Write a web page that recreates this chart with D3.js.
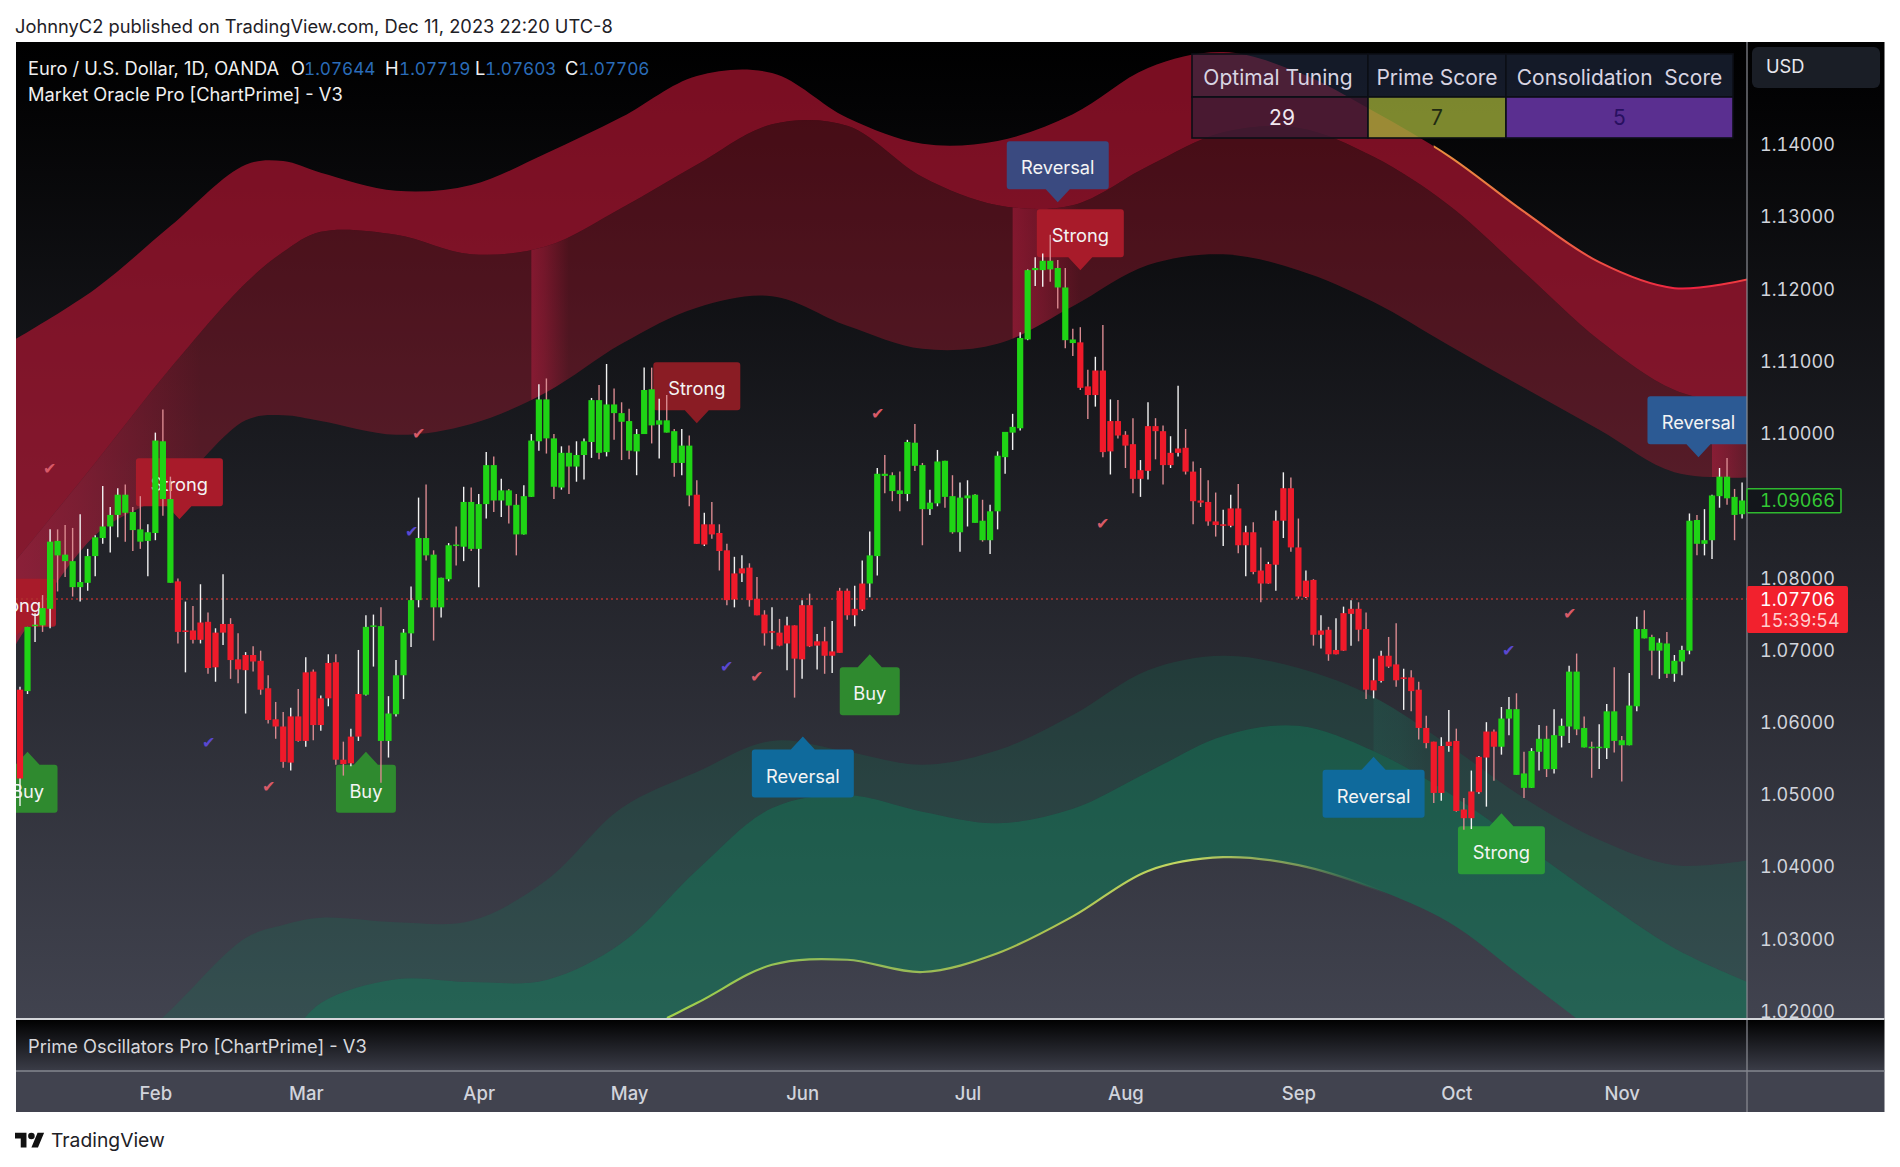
<!DOCTYPE html>
<html><head><meta charset="utf-8">
<script src="https://cdn.jsdelivr.net/npm/d3@7/dist/d3.min.js"></script>
<style>html,body{margin:0;padding:0;background:#fff}svg{display:block}text{font-family:Inter,"Noto Sans",sans-serif}</style>
</head><body><svg id="c" width="1900" height="1167"></svg>
<script>
const highs=[1.0649,1.0732,1.0751,1.0776,1.0867,1.0867,1.0873,1.0869,1.0888,1.0840,
1.0859,1.0927,1.0898,1.0924,1.0929,1.0898,1.0913,1.0874,1.1001,1.1033,
1.0940,1.0799,1.0767,1.0761,1.0791,1.0752,1.0730,1.0805,1.0744,1.0723,
1.0697,1.0705,1.0699,1.0665,1.0628,1.0614,1.0620,1.0646,1.0690,1.0673,
1.0637,1.0694,1.0694,1.0573,1.0591,1.0700,1.0748,1.0749,1.0759,1.0636,
1.0686,1.0729,1.0788,1.0911,1.0929,1.0838,1.0800,1.0848,1.0871,1.0926,
1.0925,1.0916,1.0974,1.0968,1.0937,1.0923,1.0916,1.0928,1.0999,1.1068,
1.1076,1.0999,1.0982,1.0983,1.0989,1.0993,1.1049,1.1067,1.1096,1.1062,
1.1043,1.1034,1.1006,1.1091,1.1091,1.1048,1.1053,1.1006,1.1006,1.0997,
1.0935,1.0890,1.0905,1.0874,1.0847,1.0829,1.0831,1.0820,1.0801,1.0755,
1.0759,1.0743,1.0746,1.0734,1.0769,1.0778,1.0722,1.0732,1.0740,1.0786,
1.0785,1.0789,1.0824,1.0864,1.0952,1.0970,1.0946,1.0947,1.0991,1.1013,
1.0959,1.0922,1.0977,1.0962,1.0942,1.0932,1.0935,1.0916,1.0908,1.0901,
1.0975,1.1002,1.1027,1.1140,1.1227,1.1244,1.1249,1.1275,1.1240,1.1229,
1.1145,1.1147,1.1088,1.1106,1.1150,1.1047,1.1046,1.1003,1.1021,1.0963,
1.1043,1.1021,1.1011,1.0996,1.1066,1.1006,1.0961,1.0952,1.0935,1.0918,
1.0894,1.0915,1.0930,1.0872,1.0877,1.0842,1.0822,1.0893,1.0946,1.0939,
1.0882,1.0810,1.0798,1.0748,1.0732,1.0744,1.0760,1.0769,1.0766,1.0752,
1.0688,1.0699,1.0718,1.0737,1.0674,1.0672,1.0656,1.0609,1.0573,1.0579,
1.0617,1.0591,1.0495,1.0533,1.0553,1.0600,1.0590,1.0621,1.0635,1.0640,
1.0559,1.0564,1.0596,1.0595,1.0618,1.0605,1.0678,1.0695,1.0608,1.0573,
1.0597,1.0625,1.0676,1.0581,1.0668,1.0746,1.0755,1.0721,1.0716,1.0725,
1.0693,1.0706,1.0889,1.0887,1.0895,1.0915,1.0952,1.0966,1.0923,1.0932];
const lows=[1.0484,1.0639,1.0711,1.0725,1.0730,1.0781,1.0801,1.0774,1.0767,1.0782,
1.0802,1.0847,1.0835,1.0856,1.0850,1.0837,1.0840,1.0802,1.0852,1.0886,
1.0793,1.0709,1.0669,1.0709,1.0709,1.0667,1.0656,1.0707,1.0660,1.0654,
1.0612,1.0670,1.0638,1.0598,1.0577,1.0537,1.0533,1.0573,1.0566,1.0575,
1.0588,1.0622,1.0541,1.0526,1.0539,1.0574,1.0637,1.0677,1.0516,1.0551,
1.0608,1.0632,1.0704,1.0759,1.0824,1.0713,1.0745,1.0795,1.0817,1.0823,
1.0837,1.0787,1.0882,1.0891,1.0884,1.0875,1.0831,1.0860,1.0912,1.0976,
1.0972,1.0909,1.0922,1.0916,1.0933,1.0936,1.0966,1.0964,1.0968,1.0991,
1.0963,1.0964,1.0942,1.0999,1.0986,1.0965,1.1001,1.0940,1.0942,1.0899,
1.0847,1.0844,1.0854,1.0810,1.0762,1.0759,1.0794,1.0760,1.0748,1.0706,
1.0701,1.0705,1.0672,1.0634,1.0660,1.0704,1.0673,1.0667,1.0668,1.0696,
1.0742,1.0733,1.0754,1.0773,1.0803,1.0917,1.0906,1.0892,1.0906,1.0948,
1.0845,1.0887,1.0899,1.0897,1.0861,1.0836,1.0871,1.0876,1.0850,1.0833,
1.0867,1.0944,1.0977,1.1004,1.1129,1.1204,1.1203,1.1210,1.1173,1.1118,
1.1107,1.1060,1.1020,1.1037,1.0967,1.0943,1.0993,1.0952,1.0917,1.0912,
1.0936,1.0964,1.0929,1.0952,1.0968,1.0943,1.0874,1.0898,1.0872,1.0857,
1.0844,1.0870,1.0834,1.0802,1.0805,1.0766,1.0792,1.0782,1.0855,1.0836,
1.0771,1.0772,1.0706,1.0702,1.0685,1.0694,1.0699,1.0706,1.0712,1.0632,
1.0633,1.0655,1.0675,1.0649,1.0617,1.0615,1.0576,1.0564,1.0488,1.0491,
1.0559,1.0476,1.0451,1.0452,1.0501,1.0483,1.0519,1.0555,1.0582,1.0527,
1.0495,1.0509,1.0533,1.0524,1.0529,1.0565,1.0571,1.0582,1.0565,1.0523,
1.0535,1.0549,1.0558,1.0518,1.0568,1.0615,1.0716,1.0665,1.0660,1.0661,
1.0656,1.0665,1.0694,1.0831,1.0831,1.0826,1.0897,1.0901,1.0852,1.0882];
const opens=[1.0522,1.0643,1.0733,1.0758,1.0757,1.0851,1.0832,1.0823,1.0787,1.0793,
1.0830,1.0855,1.0871,1.0887,1.0915,1.0891,1.0867,1.0851,1.0862,1.0989,
1.0909,1.0795,1.0725,1.0727,1.0714,1.0739,1.0676,1.0724,1.0736,1.0687,
1.0672,1.0693,1.0685,1.0647,1.0604,1.0594,1.0544,1.0608,1.0574,1.0670,
1.0596,1.0633,1.0683,1.0548,1.0543,1.0580,1.0638,1.0732,1.0733,1.0574,
1.0611,1.0665,1.0723,1.0769,1.0855,1.0832,1.0759,1.0798,1.0846,1.0843,
1.0905,1.0840,1.0902,1.0956,1.0907,1.0921,1.0901,1.0860,1.0912,1.0989,
1.1047,1.0993,1.0925,1.0973,1.0954,1.0970,1.0988,1.1046,1.0974,1.1040,
1.1028,1.1017,1.0975,1.0999,1.1061,1.1012,1.1018,1.1003,1.0959,1.0983,
1.0915,1.0846,1.0874,1.0862,1.0838,1.0770,1.0806,1.0814,1.0771,1.0749,
1.0724,1.0724,1.0709,1.0734,1.0687,1.0762,1.0706,1.0712,1.0692,1.0782,
1.0782,1.0748,1.0756,1.0792,1.0830,1.0944,1.0942,1.0921,1.0916,1.0987,
1.0956,1.0895,1.0903,1.0962,1.0913,1.0863,1.0910,1.0915,1.0879,1.0852,
1.0892,1.0967,1.1001,1.1007,1.1130,1.1226,1.1226,1.1239,1.1229,1.1202,
1.1130,1.1126,1.1065,1.1053,1.1087,1.0975,1.1017,1.0998,1.0985,1.0937,
1.0948,1.1010,1.1003,1.0956,1.0973,1.0980,1.0947,1.0907,1.0905,1.0878,
1.0873,1.0872,1.0896,1.0845,1.0863,1.0810,1.0792,1.0818,1.0879,1.0924,
1.0842,1.0773,1.0797,1.0721,1.0728,1.0694,1.0699,1.0750,1.0757,1.0729,
1.0644,1.0657,1.0692,1.0680,1.0661,1.0662,1.0645,1.0592,1.0573,1.0502,
1.0567,1.0574,1.0479,1.0467,1.0503,1.0551,1.0587,1.0566,1.0605,1.0618,
1.0529,1.0509,1.0559,1.0577,1.0535,1.0581,1.0594,1.0670,1.0592,1.0566,
1.0564,1.0564,1.0615,1.0575,1.0568,1.0622,1.0729,1.0718,1.0699,1.0709,
1.0667,1.0684,1.0699,1.0880,1.0847,1.0852,1.0913,1.0940,1.0912,1.0888];
const closes=[1.0645,1.0732,1.0735,1.0734,1.0850,1.0831,1.0823,1.0787,1.0794,1.0830,
1.0856,1.0871,1.0887,1.0915,1.0890,1.0866,1.0850,1.0863,1.0990,1.0909,
1.0793,1.0725,1.0727,1.0714,1.0738,1.0675,1.0724,1.0736,1.0686,1.0673,
1.0693,1.0684,1.0645,1.0603,1.0594,1.0545,1.0608,1.0574,1.0669,1.0596,
1.0633,1.0682,1.0548,1.0542,1.0580,1.0639,1.0732,1.0734,1.0574,1.0612,
1.0665,1.0724,1.0769,1.0855,1.0831,1.0759,1.0800,1.0845,1.0844,1.0905,
1.0840,1.0902,1.0956,1.0907,1.0921,1.0900,1.0860,1.0913,1.0990,1.1047,
1.0993,1.0926,1.0973,1.0954,1.0970,1.0989,1.1046,1.0973,1.1040,1.1028,
1.1016,1.0976,1.0999,1.1060,1.1011,1.1018,1.1001,1.0959,1.0983,1.0914,
1.0847,1.0874,1.0860,1.0837,1.0769,1.0806,1.0813,1.0769,1.0748,1.0723,
1.0726,1.0706,1.0734,1.0688,1.0762,1.0705,1.0712,1.0692,1.0698,1.0696,
1.0748,1.0757,1.0792,1.0831,1.0944,1.0941,1.0920,1.0916,1.0988,1.0955,
1.0895,1.0904,1.0961,1.0912,1.0863,1.0911,1.0914,1.0876,1.0852,1.0892,
1.0969,1.1002,1.1009,1.1132,1.1226,1.1229,1.1239,1.1227,1.1202,1.1129,
1.1125,1.1063,1.1053,1.1087,1.0974,1.1017,1.0997,1.0983,1.0937,1.0949,
1.1010,1.1003,1.0956,1.0973,1.0979,1.0947,1.0906,1.0904,1.0878,1.0873,
1.0874,1.0896,1.0845,1.0863,1.0808,1.0792,1.0819,1.0879,1.0924,1.0842,
1.0774,1.0796,1.0721,1.0727,1.0694,1.0700,1.0751,1.0757,1.0728,1.0645,
1.0658,1.0692,1.0677,1.0658,1.0662,1.0643,1.0592,1.0571,1.0502,1.0567,
1.0573,1.0477,1.0467,1.0504,1.0552,1.0587,1.0566,1.0605,1.0618,1.0527,
1.0509,1.0560,1.0577,1.0535,1.0582,1.0595,1.0670,1.0590,1.0565,1.0564,
1.0566,1.0615,1.0574,1.0568,1.0623,1.0729,1.0716,1.0699,1.0710,1.0667,
1.0685,1.0700,1.0879,1.0847,1.0852,1.0914,1.0940,1.0910,1.0887,1.0907];
const regimeStarts=[0,1,21,46,90,113,141,197];
const regimeKinds=["bear","bull","bear","bull","bear","bull","bear","bull"];

const bandBars=[-1,10,20,30,35,40,50,60,70,80,90,100,110,120,130,140,150,160,170,180,190,200,210,220,230];
const upperOuter=[1.1128,1.1200,1.1287,1.1372,1.1377,1.1361,1.1336,1.1344,1.1388,1.1438,1.1495,1.1499,1.1437,1.1401,1.1405,1.1442,1.1506,1.1528,1.1500,1.1446,1.1384,1.1307,1.1237,1.1201,1.1214];
const upperMiddle=[1.0818,1.0959,1.1090,1.1208,1.1251,1.1279,1.1275,1.1248,1.1259,1.1312,1.1372,1.1428,1.1426,1.1355,1.1316,1.1316,1.1370,1.1417,1.1423,1.1383,1.1316,1.1223,1.1129,1.1060,1.1036];
const upperInner=[1.0700,1.0859,1.0921,1.1018,1.1025,1.1017,1.0998,1.1013,1.1057,1.1124,1.1174,1.1190,1.1149,1.1117,1.1124,1.1176,1.1233,1.1248,1.1226,1.1182,1.1122,1.1063,1.1005,1.0946,1.0939];
const lowerInner=[1.0007,1.0104,1.0201,1.0301,1.0319,1.0329,1.0323,1.0325,1.0381,1.0481,1.0531,1.0574,1.0559,1.0541,1.0561,1.0610,1.0672,1.0692,1.0675,1.0635,1.0568,1.0495,1.0437,1.0402,1.0409];
const lowerMiddle=[0.9869,0.9938,1.0021,1.0104,1.0153,1.0211,1.0244,1.0240,1.0243,1.0294,1.0395,1.0481,1.0499,1.0476,1.0460,1.0480,1.0531,1.0581,1.0595,1.0560,1.0502,1.0430,1.0356,1.0287,1.0239];
const lowerOuter=[0.9800,0.9827,0.9869,0.9910,0.9931,0.9952,1.0007,1.0063,1.0118,1.0160,1.0211,1.0264,1.0271,1.0254,1.0280,1.0331,1.0394,1.0413,1.0402,1.0370,1.0323,1.0245,1.0166,1.0090,1.0021];

const redGlowBars=[[-1,24],[68,73],[132,141],[225,231]];
const greenGlowBars=[[180,187]];

const labelTexts=["Reversal","Strong","Strong","Strong","Strong","Reversal","Buy","Buy","Buy","Reversal","Reversal","Strong"];
const labelBars=[138,141,21.2,90,-1,223.2,1,46,113,104.1,180,197];
const labelPrices=[1.1320,1.1226,1.0881,1.1014,1.0714,1.0967,1.0559,1.0559,1.0694,1.0580,1.0552,1.0474];
const labelKinds=["revTop","strTop","strTop","strTopDim","strTop","revTopR","buy","buy","buy","revBot","revBot","strBot"];

const pinkTickBars=[3.9,53,33,114,98,144,206];
const pinkTickPrices=[1.0952,1.1001,1.0512,1.1028,1.0664,1.0876,1.0751];
const blueTickBars=[25,52,94,198];
const blueTickPrices=[1.0572,1.0865,1.0678,1.0700];

const priceTicks=[1.02,1.03,1.04,1.05,1.06,1.07,1.08,1.10,1.11,1.12,1.13,1.14];
const monthNames=["Feb","Mar","Apr","May","Jun","Jul","Aug","Sep","Oct","Nov"];
const monthBars=[18,38,61,81,104,126,147,170,191,213];
const lastPrice=1.07706, oscPrice=1.09066;
const tableHeaders=["Optimal Tuning","Prime Score","Consolidation  Score"];
const tableValues=["29","7","5"];
const ohlcNames=["O","H","L","C"];
const ohlcValues=["1.07644","1.07719","1.07603","1.07706"];

/* layout */
const L=16,PR=1747,R=1884.5,T=42,PB=1019,OB=1071,B=1112;
const x=d3.scaleLinear().domain([0,230]).range([20,20+7.52*230]);
const y=d3.scaleLinear().domain([1.02,1.14]).range([1011,144.5]);
const svg=d3.select("#c");
const defs=svg.append("defs");
function grad(id,x1,y1,x2,y2,stops,user){
  const g=defs.append("linearGradient").attr("id",id).attr("x1",x1).attr("y1",y1).attr("x2",x2).attr("y2",y2);
  if(user)g.attr("gradientUnits","userSpaceOnUse");
  stops.forEach(s=>g.append("stop").attr("offset",s[0]).attr("stop-color",s[1]).attr("stop-opacity",s[2]==null?1:s[2]));
}
grad("bg",0,0,0,1,[[0,"#000"],[0.06,"#030304"],[1,"#41434f"]]);
grad("osc",0,0,0,1,[[0,"#000"],[1,"#3b3d48"]]);
grad("rglow",0,0,1,0,[[0,"#d02048",.42],[.35,"#d02048",.3],[1,"#d02048",0]]);
grad("gglow",0,0,1,0,[[0,"#20a080",.1],[.5,"#20a080",.07],[1,"#20a080",0]]);
grad("redLine",x(188),0,x(230),0,[[0,"#e89040"],[.45,"#ee5a45"],[.8,"#ee2040"],[1,"#f04040"]],true);
grad("grnLine",x(86),0,x(182),0,[[0,"#a2d14c"],[.25,"#90b85a"],[.5,"#a8c050"],[.72,"#c4d862"],[.88,"#88a85c",.8],[1,"#3e8a60",0]],true);
defs.append("clipPath").attr("id","pane").append("rect").attr("x",L).attr("y",T).attr("width",PR-L).attr("height",PB-T);

svg.append("rect").attr("x",L).attr("y",T).attr("width",R-L).attr("height",PB-T).attr("fill","url(#bg)");
svg.append("rect").attr("x",L).attr("y",PB).attr("width",R-L).attr("height",OB-PB).attr("fill","url(#osc)");
svg.append("rect").attr("x",L).attr("y",OB).attr("width",R-L).attr("height",B-OB).attr("fill","#41434f");

const plot=svg.append("g").attr("clip-path","url(#pane)");
const rows=bandBars.map((b,i)=>({b,uo:upperOuter[i],um:upperMiddle[i],ui:upperInner[i],li:lowerInner[i],lm:lowerMiddle[i],lo:lowerOuter[i]}));
const curve=d3.curveCatmullRom.alpha(0.5);
function band(a,b){return d3.area().x(d=>x(d.b)).y0(d=>y(d[a])).y1(d=>y(d[b])).curve(curve)(rows);}
plot.append("path").attr("d",band("uo","um")).attr("fill","#b41432").attr("fill-opacity",.68);
plot.append("path").attr("d",band("um","ui")).attr("fill","#b41932").attr("fill-opacity",.38);
plot.append("path").attr("d",band("li","lm")).attr("fill","#0a825a").attr("fill-opacity",.2);
plot.append("path").attr("d",band("lm","lo")).attr("fill","#0a825a").attr("fill-opacity",.5);
defs.append("clipPath").attr("id","cr").append("path").attr("d",band("um","ui"));
defs.append("clipPath").attr("id","cg").append("path").attr("d",band("li","lm"));
plot.append("g").attr("clip-path","url(#cr)").selectAll("rect").data(redGlowBars).join("rect")
  .attr("x",d=>x(d[0])).attr("width",d=>x(d[1])-x(d[0])).attr("y",T).attr("height",PB-T).attr("fill","url(#rglow)");
plot.append("g").attr("clip-path","url(#cg)").selectAll("rect").data(greenGlowBars).join("rect")
  .attr("x",d=>x(d[0])).attr("width",d=>x(d[1])-x(d[0])).attr("y",T).attr("height",PB-T).attr("fill","url(#gglow)");

const lineOf=k=>d3.line().x(d=>x(d.b)).y(d=>y(d[k])).curve(curve)(rows);
defs.append("clipPath").attr("id","rl").append("rect").attr("x",x(188)).attr("y",T).attr("width",PR-x(188)).attr("height",PB-T);
defs.append("clipPath").attr("id","gl").append("rect").attr("x",x(86)).attr("y",T).attr("width",x(182)-x(86)).attr("height",PB-T);
plot.append("g").attr("clip-path","url(#rl)").append("path").attr("d",lineOf("uo")).attr("fill","none").attr("stroke","url(#redLine)").attr("stroke-width",2);
plot.append("g").attr("clip-path","url(#gl)").append("path").attr("d",lineOf("lo")).attr("fill","none").attr("stroke","url(#grnLine)").attr("stroke-width",2.2);

/* signal labels */
const kinds={revTop:["#3a4a80",102,-1],revTopR:["#2c5a94",102,-1],strTop:["#a81b2a",87,-1],strTopDim:["#8a1c24",87,-1],buy:["#2f8a2f",60,1],revBot:["#0f6a9c",102,1],strBot:["#2a9a38",87,1]};
const lab=plot.append("g");
labelTexts.forEach((t,i)=>{
  const k=kinds[labelKinds[i]],cx=x(labelBars[i]),tip=y(labelPrices[i]),w=k[1],h=48,d=k[2],a=13;
  const top=d<0?tip-a-h:tip+a,bot=top+h,l=cx-w/2,r=cx+w/2,q=3;
  const p=d3.path();
  p.moveTo(l+q,top);
  if(d>0){p.lineTo(cx-12,top);p.lineTo(cx,tip);p.lineTo(cx+12,top);}
  p.lineTo(r-q,top);p.quadraticCurveTo(r,top,r,top+q);p.lineTo(r,bot-q);p.quadraticCurveTo(r,bot,r-q,bot);
  if(d<0){p.lineTo(cx+12,bot);p.lineTo(cx,tip);p.lineTo(cx-12,bot);}
  p.lineTo(l+q,bot);p.quadraticCurveTo(l,bot,l,bot-q);p.lineTo(l,top+q);p.quadraticCurveTo(l,top,l+q,top);p.closePath();
  lab.append("path").attr("d",p.toString()).attr("fill",k[0]);
  lab.append("text").attr("x",cx).attr("y",(top+bot)/2+9).attr("text-anchor","middle").attr("font-size",18.3).attr("fill","#f4f4f4").text(t);
});

/* last price line */
plot.append("line").attr("x1",L).attr("x2",PR).attr("y1",y(lastPrice)).attr("y2",y(lastPrice)).attr("stroke","#b0302f").attr("stroke-width",1.4).attr("stroke-dasharray","2 3");

/* candles */
const bars=d3.range(highs.length).map(i=>{
  let r=0;regimeStarts.forEach((s,j)=>{if(i>=s)r=j;});
  return {i,h:highs[i],l:lows[i],o:opens[i],c:closes[i],kind:regimeKinds[r]};
});
const cg=plot.append("g");
cg.selectAll("line").data(bars).join("line").attr("x1",d=>x(d.i)).attr("x2",d=>x(d.i)).attr("y1",d=>y(d.h)).attr("y2",d=>y(d.l))
  .attr("stroke",d=>d.c>=d.o?"#f2f2f2":"#d98a90").attr("stroke-width",1.4);
cg.selectAll("rect").data(bars).join("rect").attr("x",d=>x(d.i)-3.1).attr("width",6.2)
  .attr("y",d=>y(Math.max(d.o,d.c))).attr("height",d=>Math.max(1.5,Math.abs(y(d.o)-y(d.c))))
  .attr("fill",d=>d.kind==="bull"?"#1fd415":"#ef1a2a");

/* tick marks */
const ticksG=plot.append("g").attr("font-size",16).attr("text-anchor","middle").style("font-family","'DejaVu Sans'");
ticksG.selectAll(".p").data(pinkTickBars).join("text").attr("class","p").attr("x",d=>x(d)).attr("y",(d,i)=>y(pinkTickPrices[i])+6).attr("fill","#d85a68").text("\u2714");
ticksG.selectAll(".b").data(blueTickBars).join("text").attr("class","b").attr("x",d=>x(d)).attr("y",(d,i)=>y(blueTickPrices[i])+6).attr("fill","#5a48d0").text("\u2714");

/* frame lines */
svg.append("line").attr("x1",PR).attr("x2",PR).attr("y1",T).attr("y2",B).attr("stroke","#8b8d94").attr("stroke-width",1.2);
svg.append("line").attr("x1",L).attr("x2",R).attr("y1",PB).attr("y2",PB).attr("stroke","#d4d6da").attr("stroke-width",2);
svg.append("line").attr("x1",L).attr("x2",R).attr("y1",OB).attr("y2",OB).attr("stroke","#85878f").attr("stroke-width",1.6);

/* price axis */
const tnum=s=>s.style("font-variant-numeric","tabular-nums");
const pa=svg.append("g").attr("transform",`translate(${PR},0.5)`).call(d3.axisRight(y).tickValues(priceTicks).tickFormat(d3.format(".5f")).tickSize(0).tickPadding(13));
pa.select(".domain").remove();
pa.selectAll("text").attr("font-size",18).attr("fill","#d1d4dc").style("font-family","Inter").call(tnum);

/* USD */
svg.append("rect").attr("x",1752).attr("y",47).attr("width",128).attr("height",41).attr("rx",6).attr("fill","#1a1e26");
svg.append("text").attr("x",1766).attr("y",73).attr("font-size",18.3).attr("fill","#e8e8ee").text("USD");
/* oscillator price box */
svg.append("rect").attr("x",PR).attr("y",y(oscPrice)-12).attr("width",94).attr("height",24).attr("rx",1).attr("fill","#13161b").attr("stroke","#2fb82f").attr("stroke-width",1.6);
svg.append("text").attr("x",1760).attr("y",y(oscPrice)+6.5).attr("font-size",18).attr("fill","#34c934").call(tnum).text(d3.format(".5f")(oscPrice));
/* last price box */
svg.append("rect").attr("x",PR).attr("y",586).attr("width",101).attr("height",47).attr("rx",2).attr("fill","#f2212d");
svg.append("text").attr("x",1760).attr("y",606).attr("font-size",18).attr("fill","#fff").call(tnum).text(d3.format(".5f")(lastPrice));
svg.append("text").attr("x",1760).attr("y",627).attr("font-size",18).attr("fill","#ffd0d0").call(tnum).text("15:39:54");

/* time axis */
const ta=svg.append("g").attr("transform",`translate(0,${B-41})`).call(d3.axisBottom(x).tickValues(monthBars).tickFormat((d,i)=>monthNames[i]).tickSize(0).tickPadding(16));
ta.select(".domain").remove();
ta.selectAll("text").attr("font-size",18.5).attr("font-weight",500).attr("fill","#d1d4dc").style("font-family","Inter");

/* table */
const colX=[1192,1368,1506,1733],rowY=[54,97,138];
const tb=svg.append("g");
const headerFill="rgba(36,47,73,.55)",valFill=["rgba(62,28,52,.82)","rgba(165,180,60,.75)","#5a2f90"],valText=["#f0e8f0","#1f2a12","#281060"];
tableHeaders.forEach((h,i)=>{
  tb.append("rect").attr("x",colX[i]).attr("y",rowY[0]).attr("width",colX[i+1]-colX[i]).attr("height",rowY[1]-rowY[0]).attr("fill",headerFill).attr("stroke","#0c0e16").attr("stroke-width",1.6);
  tb.append("rect").attr("x",colX[i]).attr("y",rowY[1]).attr("width",colX[i+1]-colX[i]).attr("height",rowY[2]-rowY[1]).attr("fill",valFill[i]).attr("stroke","#0c0e16").attr("stroke-width",1.6);
  tb.append("text").attr("x",(colX[i]+colX[i+1])/2-(i==0?2:0)).attr("y",85).attr("text-anchor","middle").attr("font-size",21).attr("fill","#d8d4e2").style("white-space","pre").text(h);
  tb.append("text").attr("x",(colX[i]+colX[i+1])/2+(i==0?2:0)).attr("y",125).attr("text-anchor","middle").attr("font-size",21).attr("fill",valText[i]).text(tableValues[i]);
});

/* legend */
const lg=svg.append("text").attr("x",28).attr("y",75).attr("font-size",18.3).attr("fill","#f0f0f0");
lg.append("tspan").text("Euro / U.S. Dollar, 1D, OANDA");
const nameX=[291,385,475,565],valX=[304,399,485,578];
ohlcNames.forEach((n,i)=>{
  lg.append("tspan").attr("x",nameX[i]).attr("fill","#f0f0f0").text(n);
  lg.append("tspan").attr("x",valX[i]).attr("fill","#2a6cb8").attr("font-size",17.2).call(tnum).text(ohlcValues[i]);
});
svg.append("text").attr("x",28).attr("y",101).attr("font-size",18.3).attr("fill","#f0f0f0").text("Market Oracle Pro [ChartPrime] - V3");
svg.append("text").attr("x",28).attr("y",1053).attr("font-size",18.3).attr("fill","#d8d8dc").text("Prime Oscillators Pro [ChartPrime] - V3");

/* page text */
svg.append("text").attr("x",15).attr("y",33).attr("font-size",18.3).attr("fill","#1e2126").text("JohnnyC2 published on TradingView.com, Dec 11, 2023 22:20 UTC-8");
const logo=svg.append("g").attr("transform","translate(15,1127) scale(.82)").attr("fill","#111");
logo.append("path").attr("d","M14 25H7V14H0V7h14v18ZM28 25h-8l7.5-18h8L28 25Z");
logo.append("circle").attr("cx",20).attr("cy",11).attr("r",4);
svg.append("text").attr("x",51).attr("y",1146.5).attr("font-size",19.3).attr("fill","#1e2126").text("TradingView");
</script></body></html>
